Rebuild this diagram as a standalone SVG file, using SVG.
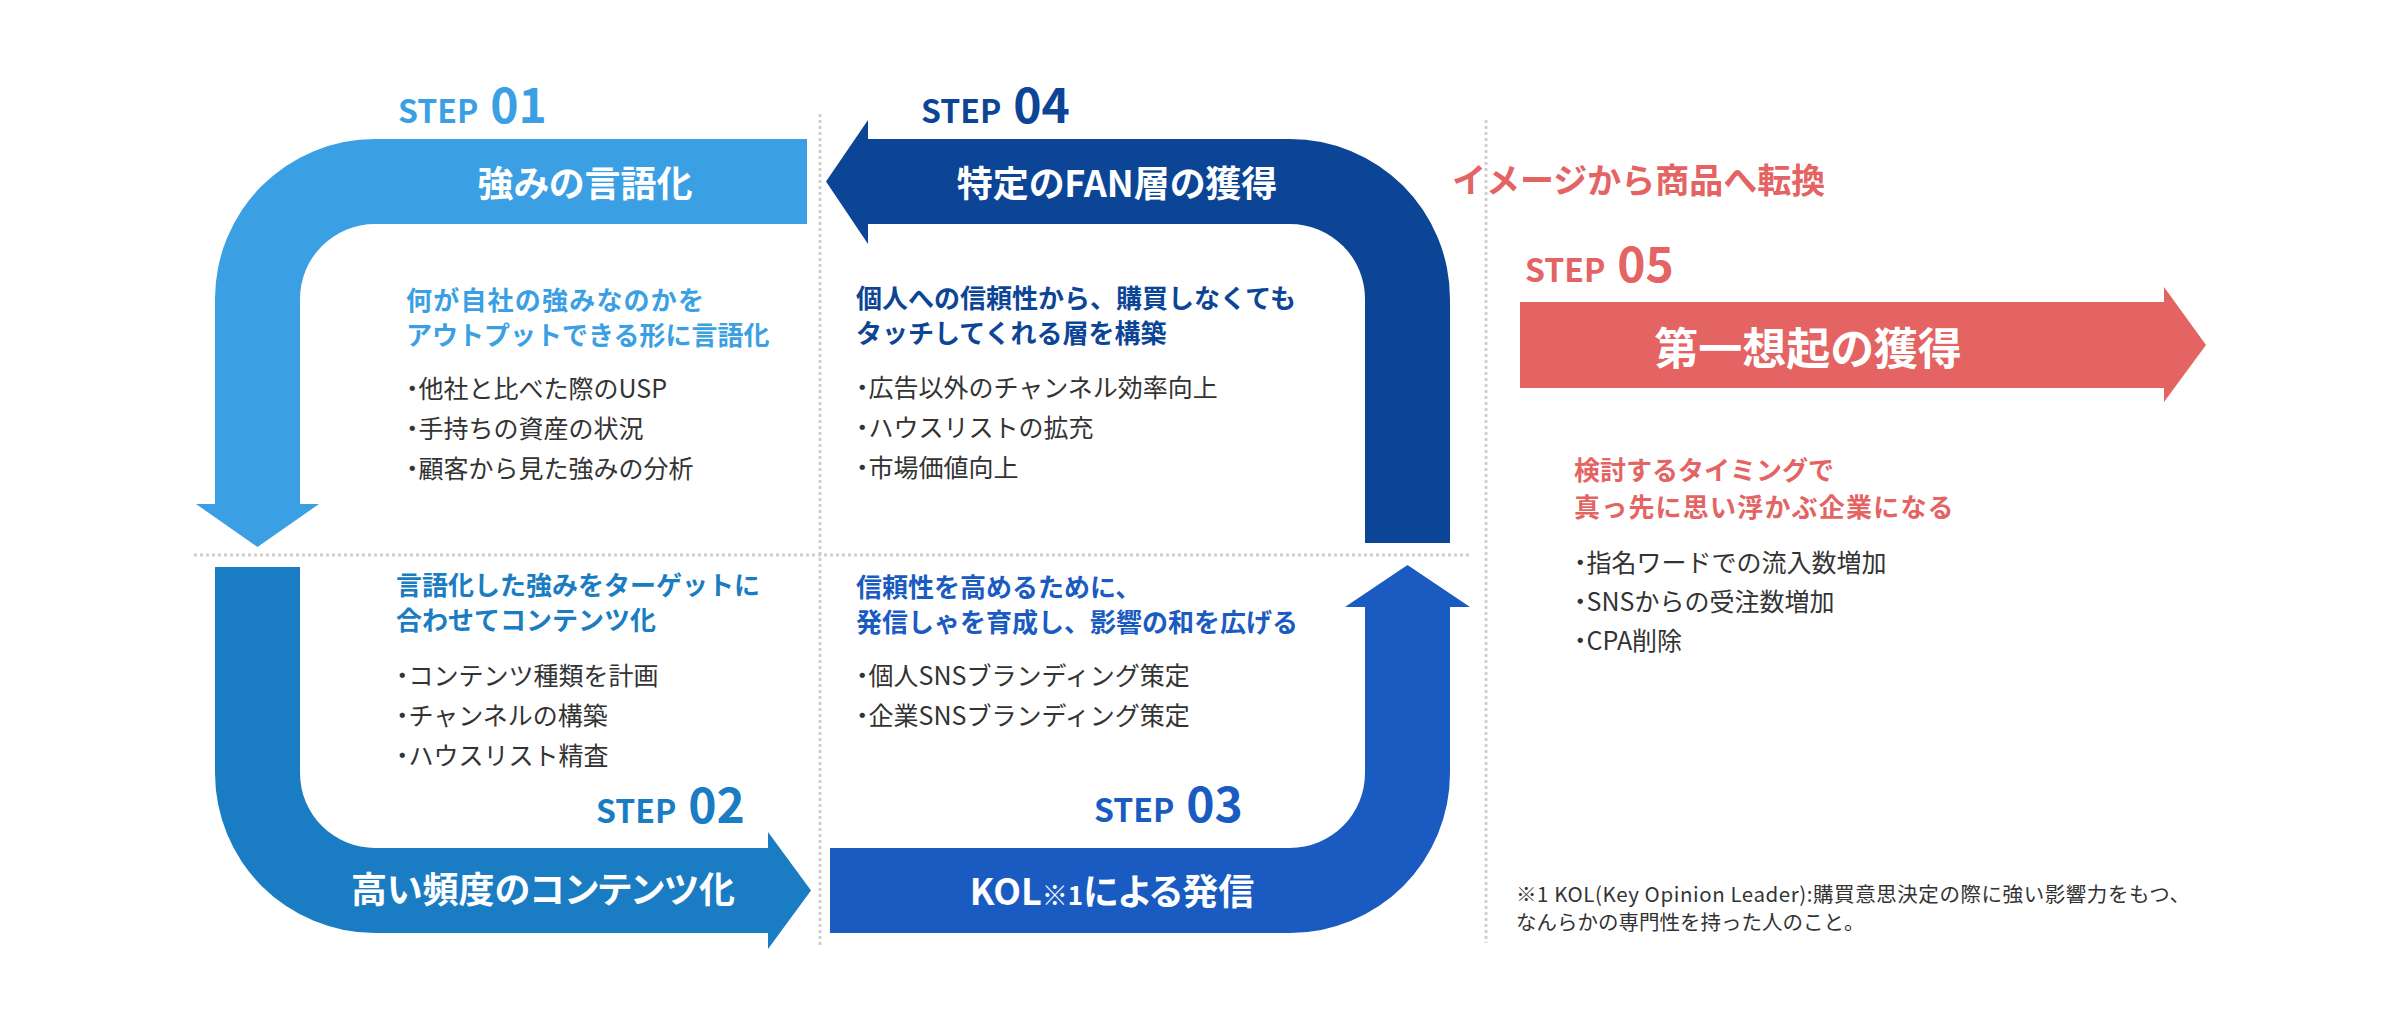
<svg xmlns="http://www.w3.org/2000/svg" width="2400" height="1026" viewBox="0 0 2400 1026">
<style>
text{font-family:"Noto Sans CJK JP","Noto Sans",sans-serif;}
.dot{font-feature-settings:"palt";}
.step{font-weight:700;font-size:32px;font-feature-settings:"palt";}
.num{font-size:48px;}
.title{font-weight:700;font-size:36px;fill:#fff;text-anchor:middle;font-feature-settings:"palt";}
.big{font-size:44px;}
.sub{font-weight:700;font-size:26px;}
.wide{letter-spacing:1.2px;}
.item{font-size:25px;fill:#333;}
.note{font-size:20.5px;fill:#333;}
.head{font-weight:700;font-size:34px;}
.sep{stroke:#cfcfcf;stroke-width:3;stroke-dasharray:3 3;fill:none;}
.c1{fill:#3b9fe4;}
.c2{fill:#1a7cc2;}
.c3{fill:#1a5bc2;}
.c4{fill:#0c4596;}
.c5{fill:#e46363;}
</style>
<rect width="2400" height="1026" fill="#fff"/>
<g id="separators">
<line class="sep" x1="194" y1="555" x2="1469" y2="555"/>
<line class="sep" x1="820" y1="114" x2="820" y2="945"/>
<line class="sep" x1="1486" y1="120" x2="1486" y2="943"/>
</g>
<g id="step01">
<path class="c1" d="M807,139 V224 H375 A75,75 0 0 0 300,299 V504 H319 L257.5,547 L196,504 H215 V299 A160,160 0 0 1 375,139 Z"/>
<text class="step c1" x="398" y="123">STEP<tspan class="num" dx="12">01</tspan></text>
<text class="title" x="585" y="197">強みの言語化</text>
<text class="sub c1 wide" x="406" y="310">何が自社の強みなのかを</text>
<text class="sub c1" x="406" y="345">アウトプットできる形に言語化</text>
<text class="item" x="406" y="398"><tspan class="dot">・</tspan>他社と比べた際のUSP</text>
<text class="item" x="406" y="438"><tspan class="dot">・</tspan>手持ちの資産の状況</text>
<text class="item" x="406" y="478"><tspan class="dot">・</tspan>顧客から見た強みの分析</text>
</g>
<g id="step02">
<path class="c2" d="M215,567 H300 V773 A75,75 0 0 0 375,848 H768 V832 L811,890.5 L768,949 V933 H375 A160,160 0 0 1 215,773 Z"/>
<text class="step c2" x="596" y="823">STEP<tspan class="num" dx="12">02</tspan></text>
<text class="title" x="543" y="903">高い頻度のコンテンツ化</text>
<text class="sub c2" x="396" y="595">言語化した強みをターゲットに</text>
<text class="sub c2" x="396" y="630">合わせてコンテンツ化</text>
<text class="item" x="396" y="685"><tspan class="dot">・</tspan>コンテンツ種類を計画</text>
<text class="item" x="396" y="725"><tspan class="dot">・</tspan>チャンネルの構築</text>
<text class="item" x="396" y="765"><tspan class="dot">・</tspan>ハウスリスト精査</text>
</g>
<g id="step03">
<path class="c3" d="M830,848 H1290 A75,75 0 0 0 1365,773 V607 H1345 L1407.5,565 L1470,607 H1450 V773 A160,160 0 0 1 1290,933 H830 Z"/>
<text class="step c3" x="1094" y="822">STEP<tspan class="num" dx="12">03</tspan></text>
<text class="title" x="1112" y="905">KOL<tspan style="font-size:26px">※1</tspan>による発信</text>
<text class="sub c3" x="856" y="597">信頼性を高めるために、</text>
<text class="sub c3" x="856" y="632">発信しゃを育成し、影響の和を広げる</text>
<text class="item" x="856" y="685"><tspan class="dot">・</tspan>個人SNSブランディング策定</text>
<text class="item" x="856" y="725"><tspan class="dot">・</tspan>企業SNSブランディング策定</text>
</g>
<g id="step04">
<path class="c4" d="M826,181.5 L868,120 V139 H1290 A160,160 0 0 1 1450,299 V543 H1365 V299 A75,75 0 0 0 1290,224 H868 V244 Z"/>
<text class="step c4" x="921" y="123">STEP<tspan class="num" dx="12">04</tspan></text>
<text class="title" x="1117" y="197">特定のFAN層の獲得</text>
<text class="sub c4" x="856" y="308">個人への信頼性から、購買しなくても</text>
<text class="sub c4" x="856" y="343">タッチしてくれる層を構築</text>
<text class="item" x="856" y="397"><tspan class="dot">・</tspan>広告以外のチャンネル効率向上</text>
<text class="item" x="856" y="437"><tspan class="dot">・</tspan>ハウスリストの拡充</text>
<text class="item" x="856" y="477"><tspan class="dot">・</tspan>市場価値向上</text>
</g>
<g id="step05">
<text class="head c5" x="1452" y="193">イメージから商品へ転換</text>
<path class="c5" d="M1520,302 H2164 V287 L2206,345 L2164,402 V388 H1520 Z"/>
<text class="step c5" x="1525" y="282">STEP<tspan class="num" dx="12">05</tspan></text>
<text class="title big" x="1808" y="365">第一想起の獲得</text>
<text class="sub c5" x="1574" y="480">検討するタイミングで</text>
<text class="sub c5 wide" x="1574" y="517">真っ先に思い浮かぶ企業になる</text>
<text class="item" x="1574" y="572"><tspan class="dot">・</tspan>指名ワードでの流入数増加</text>
<text class="item" x="1574" y="611"><tspan class="dot">・</tspan>SNSからの受注数増加</text>
<text class="item" x="1574" y="650"><tspan class="dot">・</tspan>CPA削除</text>
</g>
<g id="footnote">
<text class="note" x="1516" y="902" textLength="674" lengthAdjust="spacing">※1 KOL(Key Opinion Leader):購買意思決定の際に強い影響力をもつ、</text>
<text class="note" x="1516" y="930">なんらかの専門性を持った人のこと。</text>
</g>
</svg>
